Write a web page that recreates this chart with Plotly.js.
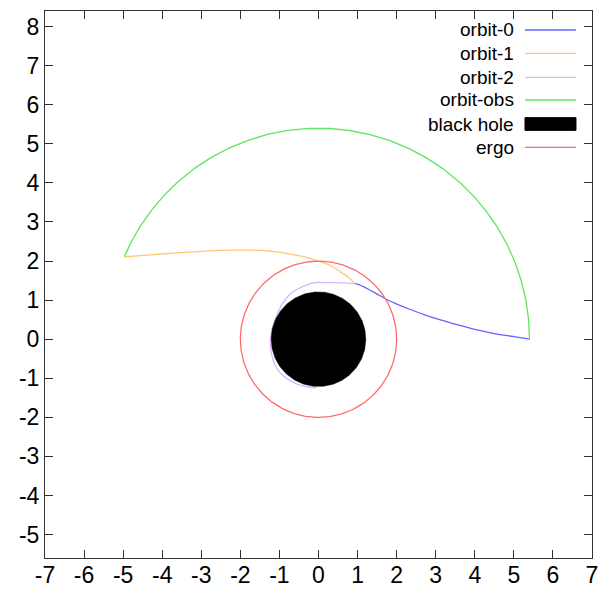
<!DOCTYPE html>
<html>
<head>
<meta charset="utf-8">
<script src="https://cdn.plot.ly/plotly-3.0.1.min.js"></script>
<style>html,body{margin:0;padding:0;background:#fff;}</style>
</head>
<body>
<div id="chart" style="width:610px;height:590px;"></div>
<script>
// ---- data ----
const seriesNames = ['orbit-0', 'orbit-1', 'orbit-2', 'orbit-obs', 'black hole', 'ergo'];

const orbit0X = [0.93, 1.05, 1.20, 1.40, 1.60, 1.80, 2.05, 2.35, 2.70, 3.10, 3.55, 4.00, 4.50, 5.00, 5.41];
const orbit0Y = [1.42, 1.39, 1.32, 1.21, 1.10, 0.99, 0.88, 0.76, 0.63, 0.50, 0.37, 0.25, 0.145, 0.065, 0.00];

const orbit1X = [-4.96, -4.30, -3.63, -2.78, -2.20, -1.75, -1.30, -0.90, -0.47, -0.22, 0.04, 0.21, 0.40, 0.55, 0.75, 0.93];
const orbit1Y = [2.11, 2.16, 2.21, 2.26, 2.28, 2.28, 2.26, 2.21, 2.13, 2.07, 1.98, 1.93, 1.83, 1.73, 1.60, 1.42];

const orbit2X = [0.93, 0.65, 0.38, 0.10, -0.09, -0.30, -0.52, -0.73, -0.90, -1.03, -1.13, -1.20, -1.23, -1.22, -1.18, -1.11, -1.00, -0.85, -0.66, -0.44, -0.22, -0.05];
const orbit2Y = [1.42, 1.44, 1.45, 1.45, 1.45, 1.39, 1.29, 1.15, 0.95, 0.70, 0.45, 0.19, -0.05, -0.27, -0.47, -0.66, -0.84, -0.98, -1.10, -1.19, -1.23, -1.24];

// circles / arcs: [radius, start angle (deg), end angle (deg)]
const orbitObsArc = [5.4, 0, 157];
const blackHoleCircle = [1.21, 0, 360];
const ergoCircle = [2.0, 0, 360];

const xTickVals = [-7, -6, -5, -4, -3, -2, -1, 0, 1, 2, 3, 4, 5, 6, 7];
const xTickText = ['-7', '-6', '-5', '-4', '-3', '-2', '-1', '0', '1', '2', '3', '4', '5', '6', '7'];
const yTickVals = [-5, -4, -3, -2, -1, 0, 1, 2, 3, 4, 5, 6, 7, 8];
const yTickText = ['-5', '-4', '-3', '-2', '-1', '0', '1', '2', '3', '4', '5', '6', '7', '8'];

// ---- styling ----
const colors = ['#6464ff', '#ffc878', '#d7b4ff', '#5ee65e', '#000000', '#ff6b6b'];
const FONT = 'Liberation Sans, Arial, sans-serif';
const LW = 1.3;

function arc(spec, n) {
  const r = spec[0], a0 = spec[1], a1 = spec[2];
  const xs = [], ys = [];
  for (let i = 0; i <= n; i++) {
    const t = (a0 + (a1 - a0) * i / n) * Math.PI / 180;
    xs.push(r * Math.cos(t));
    ys.push(r * Math.sin(t));
  }
  return {x: xs, y: ys};
}

const obs = arc(orbitObsArc, 240);
const bh = arc(blackHoleCircle, 240);
const ergo = arc(ergoCircle, 240);

const traces = [
  {x: orbit0X, y: orbit0Y, name: seriesNames[0], mode: 'lines', line: {color: colors[0], width: LW, shape: 'spline', smoothing: 1}},
  {x: orbit1X, y: orbit1Y, name: seriesNames[1], mode: 'lines', line: {color: colors[1], width: LW, shape: 'spline', smoothing: 0.8}},
  {x: orbit2X, y: orbit2Y, name: seriesNames[2], mode: 'lines', line: {color: colors[2], width: LW, shape: 'spline', smoothing: 0.8}},
  {x: obs.x, y: obs.y, name: seriesNames[3], mode: 'lines', line: {color: colors[3], width: LW}},
  {x: bh.x, y: bh.y, name: seriesNames[4], mode: 'lines', fill: 'toself', fillcolor: colors[4], line: {color: colors[4], width: 0.5}},
  {x: ergo.x, y: ergo.y, name: seriesNames[5], mode: 'lines', line: {color: colors[5], width: LW}}
];

// custom legend (text right-aligned, sample to the right, as in the reference)
const legendRowY = [0.9653, 0.9226, 0.8788, 0.8373, 0.7934, 0.7508];
const legendTextX = 0.8592, legendSampleX0 = 0.8775, legendSampleX1 = 0.9707;
const annotations = [];
const shapes = [];
seriesNames.forEach((nm, i) => {
  annotations.push({xref: 'paper', yref: 'paper', x: legendTextX, y: legendRowY[i], xanchor: 'right', yanchor: 'middle',
    text: nm, showarrow: false, font: {family: FONT, size: 19, color: '#000'}, borderpad: 0});
  if (i === 4) {
    shapes.push({type: 'rect', xref: 'paper', yref: 'paper', x0: legendSampleX0, x1: legendSampleX1,
      y0: legendRowY[i] - 0.0116, y1: legendRowY[i] + 0.0116, fillcolor: '#000', line: {color: '#000', width: 1}});
  } else {
    shapes.push({type: 'line', xref: 'paper', yref: 'paper', x0: legendSampleX0, x1: legendSampleX1,
      y0: legendRowY[i], y1: legendRowY[i], line: {color: colors[i], width: LW}});
  }
});

const axisCommon = {
  showgrid: false, zeroline: false, showline: true, linecolor: '#333', linewidth: 1,
  mirror: 'ticks', ticks: 'inside', ticklen: 8, tickwidth: 1, tickcolor: '#333',
  tickmode: 'array', tickfont: {family: FONT, size: 23, color: '#000'}, fixedrange: true
};

const layout = {
  width: 610, height: 590,
  margin: {l: 45, r: 18, t: 11, b: 32, autoexpand: false},
  paper_bgcolor: '#fff', plot_bgcolor: '#fff',
  showlegend: false,
  xaxis: Object.assign({}, axisCommon, {range: [-7, 7], tickvals: xTickVals, ticktext: xTickText, ticklabelstandoff: -4}),
  yaxis: Object.assign({}, axisCommon, {range: [-5.6, 8.4], tickvals: yTickVals, ticktext: yTickText}),
  annotations: annotations,
  shapes: shapes
};

Plotly.newPlot('chart', traces, layout, {staticPlot: true, displayModeBar: false});
</script>
</body>
</html>
